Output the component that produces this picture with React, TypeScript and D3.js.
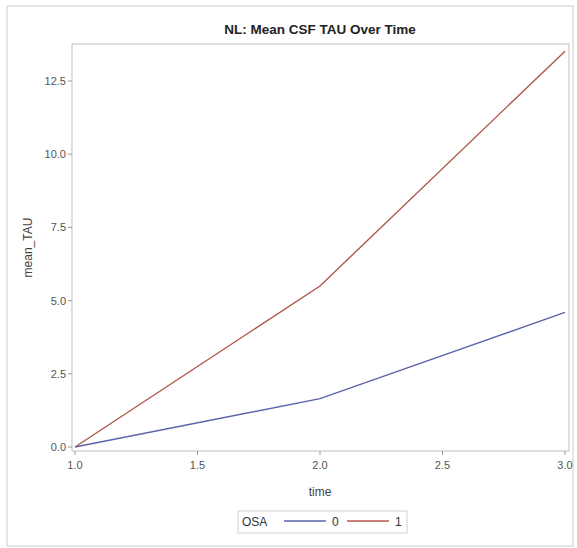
import React from "react";
import * as d3 from "d3";

const times = [1, 2, 3];
const osa0 = [0, 1.65, 4.6];
const osa1 = [0, 5.5, 13.52];
const seriesNames = ["0", "1"];
const seriesColors = ["#5a64a8", "#b0584c"];
const xTicks = [1, 1.5, 2, 2.5, 3];
const yTicks = [0, 2.5, 5, 7.5, 10, 12.5];

const W = 577;
const H = 548;
const frame = { left: 72, top: 44, right: 569, bottom: 451 };

const App = () => {
  const x = d3.scaleLinear().domain([1, 3]).range([75, 565]);
  const y = d3.scaleLinear().domain([0, 12.5]).range([447, 81]);

  const line = d3
    .line<number>()
    .x((_, i) => x(times[i]))
    .y((d) => y(d));

  const series = [osa0, osa1];
  const font = "'Liberation Sans', Arial, sans-serif";

  return (
    <svg
      width={W}
      height={H}
      style={{ position: "absolute", left: 0, top: 0, background: "#fff" }}
      fontFamily={font}
    >
      {/* outer border */}
      <rect x={7} y={6} width={566} height={540} fill="#fff" stroke="#dcdcdc" strokeWidth={1.5} />

      <text x={320} y={34} textAnchor="middle" fontSize={13.5} fontWeight="bold" fill="#222">
        NL: Mean CSF TAU Over Time
      </text>

      {/* plot frame */}
      <rect
        x={frame.left}
        y={frame.top}
        width={frame.right - frame.left}
        height={frame.bottom - frame.top}
        fill="none"
        stroke="#c8c8c8"
        strokeWidth={1.2}
      />

      {/* y axis */}
      {yTicks.map((t) => (
        <g key={t}>
          <line x1={frame.left - 4} x2={frame.left} y1={y(t)} y2={y(t)} stroke="#999" />
          <text x={frame.left - 6} y={y(t) + 4} textAnchor="end" fontSize={11} fill="#555">
            {t.toFixed(1)}
          </text>
        </g>
      ))}
      <text
        transform={`translate(32,${(frame.top + frame.bottom) / 2}) rotate(-90)`}
        textAnchor="middle"
        fontSize={12}
        fill="#444"
      >
        mean_TAU
      </text>

      {/* x axis */}
      {xTicks.map((t) => (
        <g key={t}>
          <line x1={x(t)} x2={x(t)} y1={frame.bottom} y2={frame.bottom + 4} stroke="#999" />
          <text x={x(t)} y={frame.bottom + 18} textAnchor="middle" fontSize={11} fill="#555">
            {t.toFixed(1)}
          </text>
        </g>
      ))}
      <text x={320} y={496} textAnchor="middle" fontSize={12} fill="#444">
        time
      </text>

      {/* lines */}
      {series.map((s, i) => (
        <path key={i} d={line(s) ?? ""} fill="none" stroke={seriesColors[i]} strokeWidth={1.4} />
      ))}

      {/* legend */}
      <rect x={238} y={511} width={169} height={22} fill="#fff" stroke="#d0d0d0" />
      <text x={242} y={526} fontSize={12} fill="#333">
        OSA
      </text>
      {seriesNames.map((n, i) => (
        <g key={n} transform={`translate(${284 + i * 63},0)`}>
          <line x1={0} x2={42} y1={521} y2={521} stroke={seriesColors[i]} strokeWidth={1.4} />
          <text x={48} y={526} fontSize={12} fill="#333">
            {n}
          </text>
        </g>
      ))}
    </svg>
  );
};

export default App;
